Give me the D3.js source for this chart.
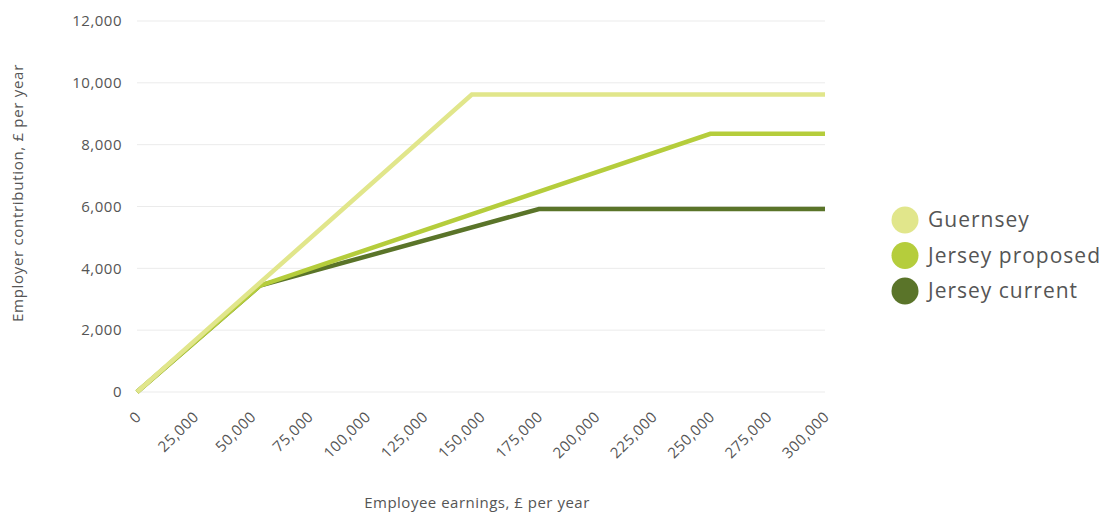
<!DOCTYPE html>
<html>
<head>
<meta charset="utf-8">
<script src="https://cdn.jsdelivr.net/npm/d3@7"></script>
<style>
  html, body { margin: 0; padding: 0; background: #fff; }
  svg { display: block; font-family: "Open Sans", Lato, sans-serif; }
</style>
</head>
<body>
<svg id="chart" width="1102" height="512"></svg>
<script>
// Employer social security contribution by employee earnings
const seriesNames = ["Guernsey", "Jersey proposed", "Jersey current"];
const seriesColors = ["#e1e68b", "#b5cd3c", "#5a7429"];

const guernseyEarnings = [0, 146000, 300000];
const guernseyContrib  = [0, 9620, 9620];

const jerseyProposedEarnings = [0, 53600, 250000, 300000];
const jerseyProposedContrib  = [0, 3440, 8350, 8350];

const jerseyCurrentEarnings = [0, 53600, 175300, 300000];
const jerseyCurrentContrib  = [0, 3440, 5920, 5920];

const xTicks = [0, 25000, 50000, 75000, 100000, 125000, 150000, 175000, 200000, 225000, 250000, 275000, 300000];
const yTicks = [0, 2000, 4000, 6000, 8000, 10000, 12000];

const svg = d3.select("#chart");
const plotLeft = 137, plotRight = 825, plotTop = 21, plotBottom = 392;
const font = "'Open Sans', Lato, sans-serif";

const x = d3.scaleLinear().domain([0, 300000]).range([plotLeft, plotRight]);
const y = d3.scaleLinear().domain([0, 12000]).range([plotBottom, plotTop]);
const fmt = d3.format(",");

// horizontal gridlines
svg.append("g").selectAll("line").data(yTicks).join("line")
  .attr("x1", plotLeft).attr("x2", plotRight)
  .attr("y1", d => y(d)).attr("y2", d => y(d))
  .attr("stroke", "#ebebeb").attr("stroke-width", 1);

// y axis labels
const yAxis = svg.append("g").attr("transform", `translate(${plotLeft - 15},0)`)
  .call(d3.axisLeft(y).tickValues(yTicks).tickFormat(fmt).tickSize(0).tickPadding(0));
yAxis.select(".domain").remove();
yAxis.selectAll("text").attr("fill", "#555").style("font-size", "15px")
  .style("font-family", font).style("letter-spacing", "0.5px");

// x axis labels, rotated 45 degrees and ending at the tick
const xAxis = svg.append("g").attr("transform", `translate(0,${plotBottom})`)
  .call(d3.axisBottom(x).tickValues(xTicks).tickFormat(fmt).tickSize(0).tickPadding(0));
xAxis.select(".domain").remove();
xAxis.selectAll(".tick text")
  .attr("fill", "#555").style("font-size", "15px")
  .style("font-family", font).style("letter-spacing", "0.5px")
  .attr("y", 0).attr("dy", "0.35em")
  .attr("text-anchor", "end")
  .attr("transform", "translate(1,22) rotate(-45)");

// axis titles
svg.append("text")
  .attr("transform", `translate(23,193) rotate(-90)`)
  .attr("text-anchor", "middle").attr("fill", "#555")
  .style("font-size", "15px").style("letter-spacing", "0.7px")
  .text("Employer contribution, £ per year");
svg.append("text")
  .attr("x", 477).attr("y", 508)
  .attr("text-anchor", "middle").attr("fill", "#555")
  .style("font-size", "15px").style("letter-spacing", "0.5px")
  .text("Employee earnings, £ per year");

// lines
const line = d3.line().x(d => x(d[0])).y(d => y(d[1]));
const series = [
  { name: seriesNames[2], color: seriesColors[2], pts: d3.zip(jerseyCurrentEarnings, jerseyCurrentContrib) },
  { name: seriesNames[1], color: seriesColors[1], pts: d3.zip(jerseyProposedEarnings, jerseyProposedContrib) },
  { name: seriesNames[0], color: seriesColors[0], pts: d3.zip(guernseyEarnings, guernseyContrib) }
];
svg.append("g").selectAll("path").data(series).join("path")
  .attr("d", d => line(d.pts))
  .attr("fill", "none")
  .attr("stroke", d => d.color)
  .attr("stroke-width", 4.5)
  .attr("stroke-linejoin", "miter");

// legend
const legend = svg.append("g").attr("transform", "translate(905,220)");
const items = legend.selectAll("g").data(seriesNames).join("g")
  .attr("transform", (d, i) => `translate(0,${i * 35.5})`);
items.append("circle").attr("r", 13.5).attr("fill", (d, i) => seriesColors[i]);
items.append("text").attr("x", 23).attr("dy", "0.35em")
  .attr("fill", "#555").style("font-size", "21px").style("letter-spacing", "1px")
  .text(d => d);
</script>
</body>
</html>
